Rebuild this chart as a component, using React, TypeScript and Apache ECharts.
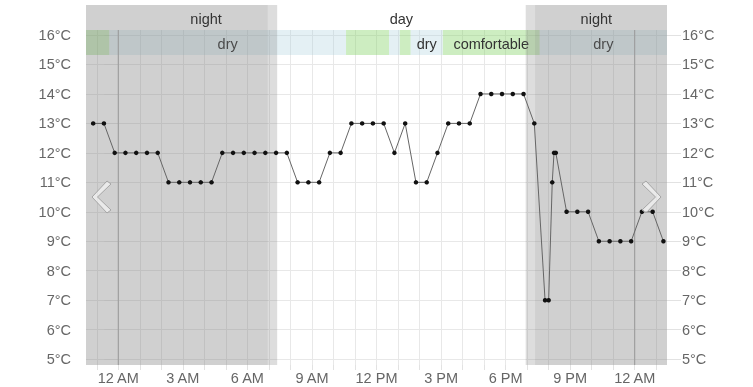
import React, { useEffect, useRef } from 'react';
import * as echarts from 'echarts';

// ---- data ----
const obsTimes = [
  '22:50', '23:20', '23:50', '00:20', '00:50', '01:20', '01:50', '02:20', '02:50', '03:20',
  '03:50', '04:20', '04:50', '05:20', '05:50', '06:20', '06:50', '07:20', '07:50', '08:20',
  '08:50', '09:20', '09:50', '10:20', '10:50', '11:20', '11:50', '12:20', '12:50', '13:20',
  '13:50', '14:20', '14:50', '15:20', '15:50', '16:20', '16:50', '17:20', '17:50', '18:20',
  '18:50', '19:20', '19:50', '20:00', '20:10', '20:15', '20:20', '20:50', '21:20', '21:50',
  '22:20', '22:50', '23:20', '23:50', '00:20', '00:50', '01:20',
];
const temperatures = [
  13, 13, 12, 12, 12, 12, 12, 11, 11, 11,
  11, 11, 12, 12, 12, 12, 12, 12, 12, 11,
  11, 11, 12, 12, 13, 13, 13, 13, 12, 13,
  11, 11, 12, 13, 13, 13, 14, 14, 14, 14,
  14, 13, 7, 7, 11, 12, 12, 10, 10, 10,
  9, 9, 9, 9, 10, 10, 9,
];
const humidity = [
  'comfortable', 'comfortable', 'dry', 'dry', 'dry', 'dry', 'dry', 'dry', 'dry', 'dry',
  'dry', 'dry', 'dry', 'dry', 'dry', 'dry', 'dry', 'dry', 'dry', 'dry',
  'dry', 'dry', 'dry', 'dry', 'comfortable', 'comfortable', 'comfortable', 'comfortable', 'dry', 'comfortable',
  'dry', 'dry', 'dry', 'comfortable', 'comfortable', 'comfortable', 'comfortable', 'comfortable', 'comfortable', 'comfortable',
  'comfortable', 'comfortable', 'dry', 'dry', 'dry', 'dry', 'dry', 'dry', 'dry', 'dry',
  'dry', 'dry', 'dry', 'dry', 'dry', 'dry', 'dry',
];
const dawn = '06:57';
const sunrise = '07:23';
const sunset = '18:56';
const dusk = '19:22';
const periodLabelNames = ['night', 'day', 'night'];
const yTickValues = [5, 6, 7, 8, 9, 10, 11, 12, 13, 14, 15, 16];
const xLabelHours = [0, 3, 6, 9, 12, 15, 18, 21, 24];
const xLabelTexts = ['12 AM', '3 AM', '6 AM', '9 AM', '12 PM', '3 PM', '6 PM', '9 PM', '12 AM'];
const midnights = [0, 24];

const X_MIN = -1.5;
const X_MAX = 25.5;
const Y_MIN = 4.8;
const Y_MAX = 16.17;
const NIGHT1_LABEL_AT = 4.08;

const FONT = '"Liberation Sans", Arial, Helvetica, sans-serif';
const FS = 14.5;

function toHours(t: string) {
  const [h, m] = t.split(':').map(Number);
  return h + m / 60;
}

// observation times in hours relative to the first midnight shown
const obsHours: number[] = (() => {
  let day = -1;
  let prev = -1;
  return obsTimes.map((t) => {
    const v = toHours(t);
    if (v < prev) day += 1;
    prev = v;
    return v + day * 24;
  });
})();

// runs of humidity categories, cell boundaries at midpoints between observations
const humidityRuns = (() => {
  const runs: { start: number; end: number; kind: string }[] = [];
  for (let i = 0; i < obsHours.length; i++) {
    const s = i === 0 ? X_MIN : (obsHours[i - 1] + obsHours[i]) / 2;
    const e = i === obsHours.length - 1 ? X_MAX : (obsHours[i] + obsHours[i + 1]) / 2;
    const last = runs[runs.length - 1];
    if (last && last.kind === humidity[i]) last.end = e;
    else runs.push({ start: s, end: e, kind: humidity[i] });
  }
  return runs;
})();

const shadings = [
  { start: X_MIN, end: toHours(dawn), kind: 'night' },
  { start: toHours(dawn), end: toHours(sunrise), kind: 'twilight' },
  { start: toHours(sunset), end: toHours(dusk), kind: 'twilight' },
  { start: toHours(dusk), end: X_MAX, kind: 'night' },
];

const periodLabelPos = [
  NIGHT1_LABEL_AT,
  (toHours(sunrise) + toHours(sunset)) / 2,
  (toHours(sunset) + X_MAX) / 2,
];

const shadeColors: Record<string, string> = {
  night: 'rgba(120,120,120,0.35)',
  twilight: 'rgba(120,120,120,0.25)',
};
const bandColors: Record<string, string> = {
  dry: 'rgba(173,208,222,0.33)',
  comfortable: 'rgba(130,210,100,0.4)',
};

const hourTicks: number[] = [];
for (let h = Math.ceil(X_MIN); h <= Math.floor(X_MAX); h++) hourTicks.push(h);

export default function App() {
  const ref = useRef<HTMLDivElement>(null);
  useEffect(() => {
    document.body.style.margin = '0';
    if (!ref.current) return;
    const chart = echarts.init(ref.current, null, { renderer: 'svg' });

    const textStyle = (text: string, x: number, y: number) => ({
      type: 'text',
      style: {
        text,
        x,
        y,
        align: 'center',
        verticalAlign: 'middle',
        fill: '#333',
        fontSize: FS,
        fontFamily: FONT,
      },
    });

    const option: any = {
      animation: false,
      grid: [
        { left: 86, right: 86, top: 30, bottom: 22 },
        { left: 86, right: 86, top: 5, height: 25 },
        { left: 86, right: 86, top: 30, height: 25 },
      ],
      xAxis: [
        {
          type: 'value',
          gridIndex: 0,
          min: X_MIN,
          max: X_MAX,
          minInterval: 1,
          maxInterval: 1,
          axisLine: { show: false },
          axisTick: { show: true, length: 5, lineStyle: { color: '#e2e2e2' }, customValues: hourTicks },
          axisLabel: {
            customValues: xLabelHours,
            formatter: (v: number) => {
              const i = xLabelHours.indexOf(Math.round(v));
              return i >= 0 ? xLabelTexts[i] : '';
            },
            color: '#666',
            fontSize: FS,
            fontFamily: FONT,
            margin: 5,
          },
          splitLine: { show: true, lineStyle: { color: '#e8e8e8' } },
        },
        { type: 'value', gridIndex: 1, min: X_MIN, max: X_MAX, show: false },
        { type: 'value', gridIndex: 2, min: X_MIN, max: X_MAX, show: false },
      ],
      yAxis: [
        {
          type: 'value',
          gridIndex: 0,
          position: 'left',
          min: Y_MIN,
          max: Y_MAX,
          minInterval: 1,
          maxInterval: 1,
          axisLine: { show: false },
          axisTick: { show: true, length: 14, lineStyle: { color: '#e2e2e2' }, customValues: yTickValues },
          axisLabel: {
            customValues: yTickValues,
            formatter: (v: number) => `${v}°C`,
            color: '#666',
            fontSize: FS,
            fontFamily: FONT,
            margin: 15,
          },
          splitLine: { show: true, lineStyle: { color: '#e8e8e8' } },
        },
        {
          type: 'value',
          gridIndex: 0,
          position: 'right',
          min: Y_MIN,
          max: Y_MAX,
          minInterval: 1,
          maxInterval: 1,
          axisLine: { show: false },
          axisTick: { show: true, length: 14, lineStyle: { color: '#e2e2e2' }, customValues: yTickValues },
          axisLabel: {
            customValues: yTickValues,
            formatter: (v: number) => `${v}°C`,
            color: '#666',
            fontSize: FS,
            fontFamily: FONT,
            margin: 15,
          },
          splitLine: { show: false },
        },
        { type: 'value', gridIndex: 1, min: 0, max: 1, show: false },
        { type: 'value', gridIndex: 2, min: 0, max: 1, show: false },
      ],
      series: [
        {
          type: 'custom',
          name: 'humidity',
          xAxisIndex: 2,
          yAxisIndex: 3,
          z: 1,
          silent: true,
          encode: { x: [0, 1] },
          data: humidityRuns.map((r) => [r.start, r.end]),
          renderItem: (params: any, api: any) => {
            const r = humidityRuns[params.dataIndex];
            const p0 = api.coord([r.start, 1]);
            const p1 = api.coord([r.end, 0]);
            const w = p1[0] - p0[0];
            const children: any[] = [
              {
                type: 'rect',
                shape: { x: p0[0], y: p0[1], width: w, height: p1[1] - p0[1] },
                style: { fill: bandColors[r.kind] },
              },
            ];
            if (w > r.kind.length * 7.5 + 6) {
              children.push(textStyle(r.kind, (p0[0] + p1[0]) / 2, (p0[1] + p1[1]) / 2 + 1));
            }
            return { type: 'group', children };
          },
        },
        {
          type: 'custom',
          name: 'shade-top',
          xAxisIndex: 1,
          yAxisIndex: 2,
          z: 2,
          silent: true,
          encode: { x: [0, 1] },
          data: shadings.map((s) => [s.start, s.end]),
          renderItem: (params: any, api: any) => {
            const s = shadings[params.dataIndex];
            const p0 = api.coord([s.start, 1]);
            const p1 = api.coord([s.end, 0]);
            return {
              type: 'rect',
              shape: { x: p0[0], y: p0[1], width: p1[0] - p0[0], height: p1[1] - p0[1] },
              style: { fill: shadeColors[s.kind] },
            };
          },
        },
        {
          type: 'custom',
          name: 'shade-main',
          xAxisIndex: 0,
          yAxisIndex: 0,
          z: 2,
          silent: true,
          encode: { x: [0, 1] },
          data: shadings.map((s) => [s.start, s.end]),
          renderItem: (params: any, api: any) => {
            const s = shadings[params.dataIndex];
            const p0 = api.coord([s.start, Y_MAX]);
            const p1 = api.coord([s.end, Y_MIN]);
            return {
              type: 'rect',
              shape: { x: p0[0], y: p0[1], width: p1[0] - p0[0], height: p1[1] - p0[1] },
              style: { fill: shadeColors[s.kind] },
            };
          },
        },
        {
          type: 'custom',
          name: 'period-labels',
          xAxisIndex: 1,
          yAxisIndex: 2,
          z: 3,
          silent: true,
          encode: { x: 0 },
          data: periodLabelPos.map((p) => [p]),
          renderItem: (params: any, api: any) => {
            const p = api.coord([periodLabelPos[params.dataIndex], 0.5]);
            return textStyle(periodLabelNames[params.dataIndex], p[0], p[1] + 1);
          },
        },
        {
          type: 'custom',
          name: 'midnight',
          xAxisIndex: 0,
          yAxisIndex: 0,
          z: 3,
          silent: true,
          encode: { x: 0 },
          data: midnights.map((m) => [m]),
          renderItem: (params: any, api: any) => {
            const m = midnights[params.dataIndex];
            const a = api.coord([m, Y_MAX]);
            const b = api.coord([m, Y_MIN]);
            return {
              type: 'line',
              shape: { x1: a[0], y1: a[1], x2: b[0], y2: b[1] },
              style: { stroke: '#999', lineWidth: 1 },
            };
          },
        },
        {
          type: 'line',
          name: 'temperature',
          xAxisIndex: 0,
          yAxisIndex: 0,
          z: 4,
          silent: true,
          data: obsHours.map((h, i) => [h, temperatures[i]]),
          symbol: 'circle',
          symbolSize: 4.5,
          showSymbol: true,
          showAllSymbol: true,
          lineStyle: { color: '#666', width: 1 },
          itemStyle: { color: '#111' },
        },
      ],
      graphic: [
        {
          type: 'polygon',
          z: 100,
          shape: { points: [[92, 197], [107, 181], [111, 184], [97.5, 197], [111, 210], [107, 213]] },
          style: { fill: 'rgba(255,255,255,0.55)', stroke: '#a5a5a5', lineWidth: 1 },
        },
        {
          type: 'polygon',
          z: 100,
          shape: { points: [[661, 197], [646, 181], [642, 184], [655.5, 197], [642, 210], [646, 213]] },
          style: { fill: 'rgba(255,255,255,0.55)', stroke: '#a5a5a5', lineWidth: 1 },
        },
      ],
    };
    chart.setOption(option);
    return () => chart.dispose();
  }, []);
  return <div ref={ref} style={{ position: 'fixed', left: 0, top: 0, width: 753, height: 387 }} />;
}
